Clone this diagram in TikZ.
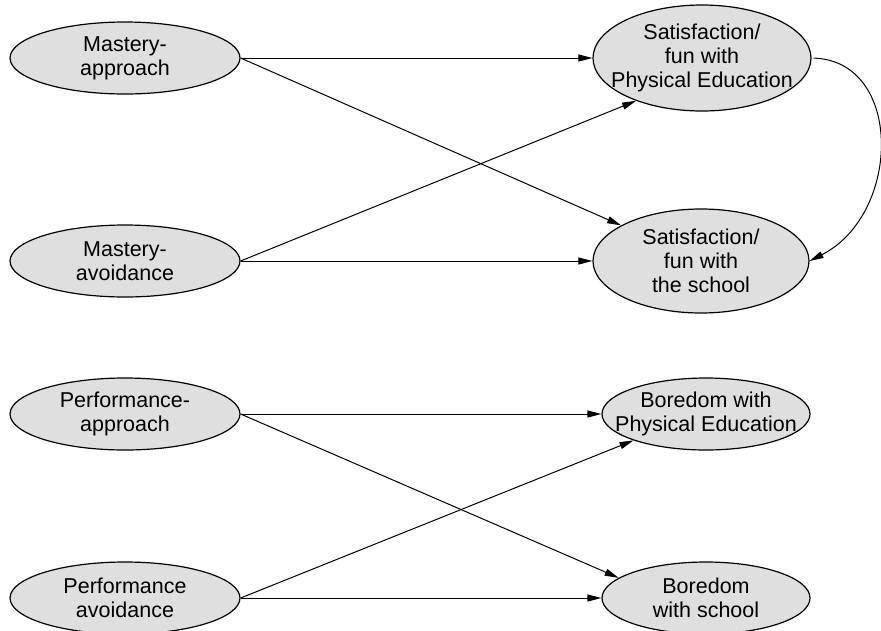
\documentclass[tikz,border=0pt]{standalone}
\usepackage{fontspec}
\setmainfont{Liberation Sans}
\usetikzlibrary{shapes.geometric,arrows.meta}

\tikzset{
    goal/.style={ellipse, draw, line width=1.2pt, fill=gray!25, inner sep=0pt},
    lbl/.style={align=center, inner sep=0pt, font=\fontsize{21.5}{24}\selectfont},
    link/.style={line width=1pt, -{Triangle[length=14pt,width=7pt]}}
}

\begin{document}
\begin{tikzpicture}[x=1pt, y=-1pt]

    \useasboundingbox (0,0) rectangle (881,630);

    % Achievement goals (left column)
    \node[goal, minimum width=230pt, minimum height=72pt] (mapp) at (125,58) {};
    \node[lbl] (mapp-t) at (mapp) {Mastery-\\approach};
    \node[goal, minimum width=230pt, minimum height=72pt] (mavo) at (125,261) {};
    \node[lbl] (mavo-t) at (mavo) {Mastery-\\avoidance};
    \node[goal, minimum width=230pt, minimum height=72pt] (papp) at (125,414) {};
    \node[lbl] (papp-t) at (papp) {Performance-\\approach};
    \node[goal, minimum width=230pt, minimum height=72pt] (pavo) at (125,598) {};
    \node[lbl] (pavo-t) at (pavo) {Performance\\avoidance};

    % Outcomes (right column)
    \node[goal, minimum width=218pt, minimum height=106pt] (satp) at (702,58) {};
    \node[lbl] (satp-t) at (satp) {Satisfaction/\\fun with\\Physical Education};
    \node[goal, minimum width=216pt, minimum height=104pt] (sats) at (701,261) {};
    \node[lbl] (sats-t) at (sats) {Satisfaction/\\fun with\\the school};
    \node[goal, minimum width=208pt, minimum height=72pt] (borp) at (706,414) {};
    \node[lbl] (borp-t) at (borp) {Boredom with\\Physical Education};
    \node[goal, minimum width=208pt, minimum height=72pt] (bors) at (706,598) {};
    \node[lbl] (bors-t) at (bors) {Boredom\\with school};

    % Mastery paths
    \draw[link] (mapp) -- (satp);
    \draw[link] (mapp.east) -- (sats.156);
    \draw[link] (mavo.east) -- (satp.213);
    \draw[link] (mavo) -- (sats);

    % Performance paths
    \draw[link] (papp) -- (borp);
    \draw[link] (papp.east) -- (bors.167);
    \draw[link] (pavo.east) -- (borp.200);
    \draw[link] (pavo) -- (bors);

    % Physical Education to school
    \draw[link, shorten <=2pt] (satp.east) .. controls +(92,3) and +(92,-47) .. (sats.east);

\end{tikzpicture}
\end{document}
